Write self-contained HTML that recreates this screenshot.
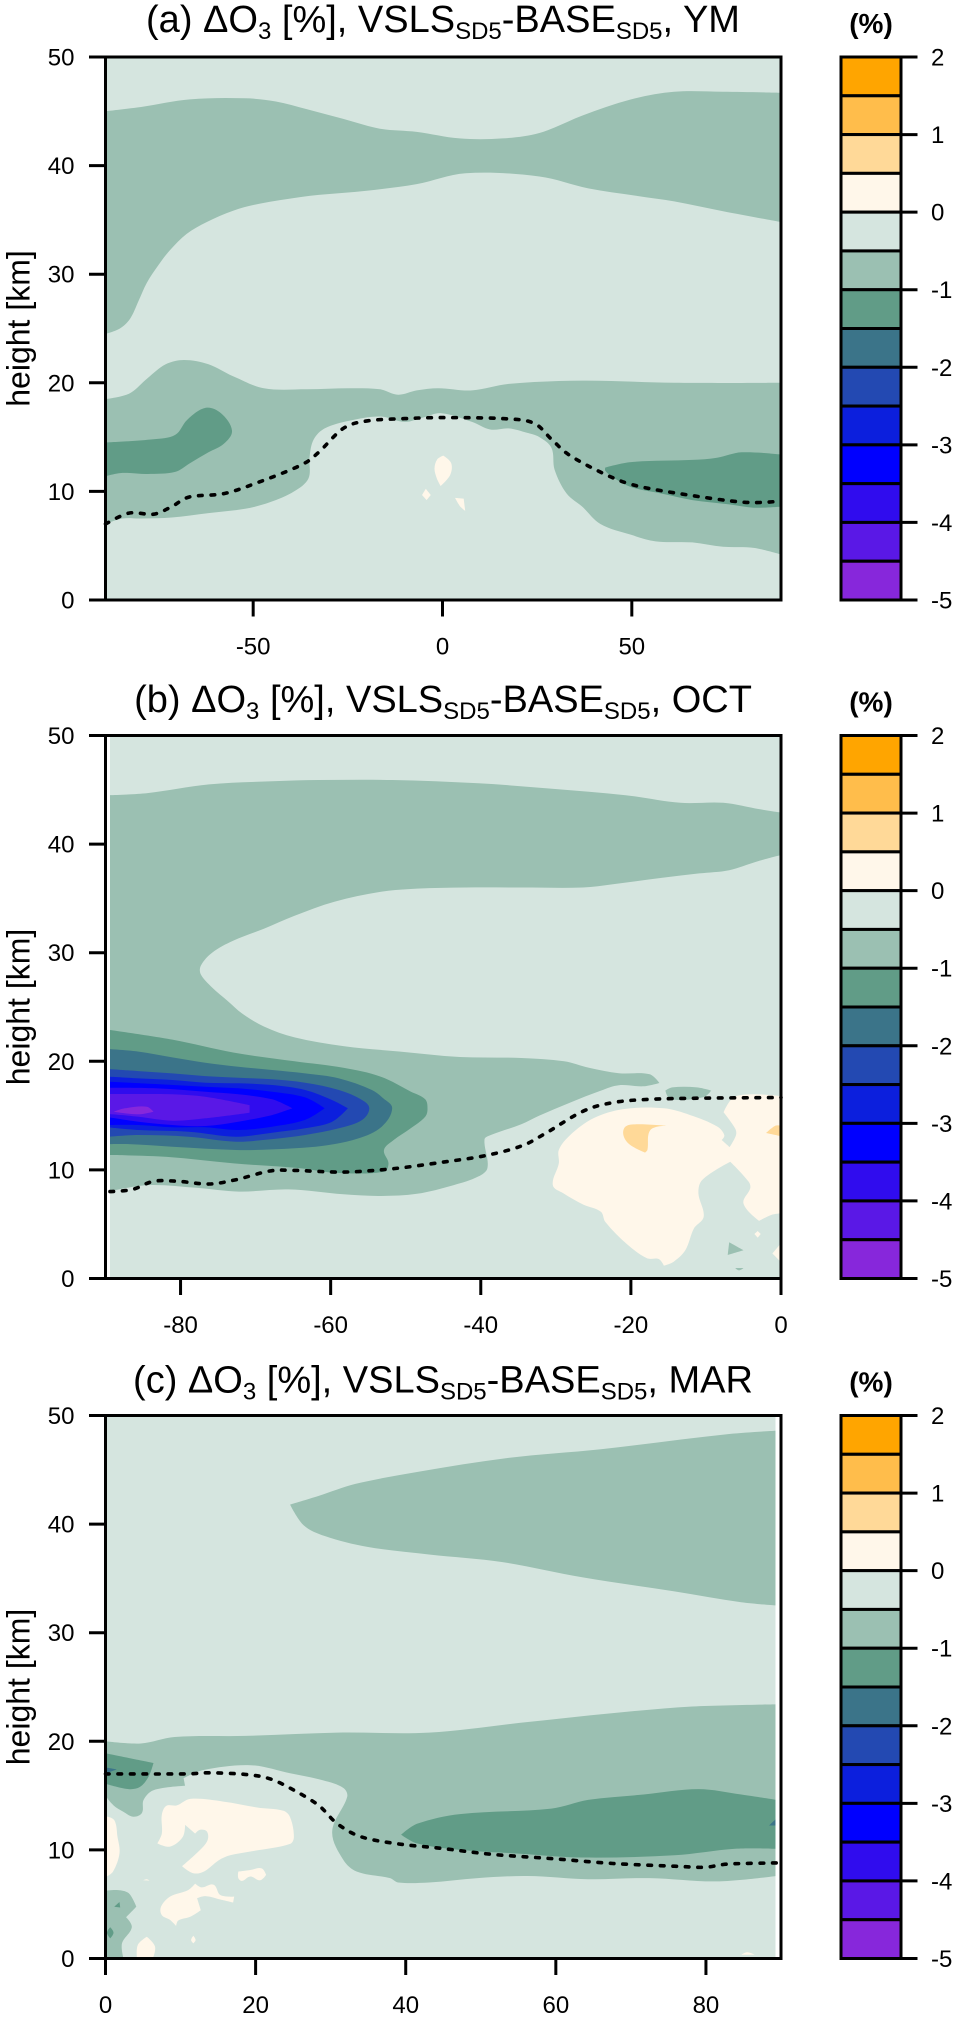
<!DOCTYPE html>
<html lang="en">
<head>
<meta charset="utf-8">
<title>Ozone difference cross-sections</title>
<style>
  html, body { margin: 0; padding: 0; background: #fff; }
  svg { display: block; font-family: "Liberation Sans", sans-serif; }
  .tick-label { font-size: 24px; fill: #000; }
  .axis-title { font-size: 32px; fill: #000; }
  .chart-title { font-size: 38px; fill: #000; }
  .chart-title .sub { font-size: 24px; }
  .unit-title { font-size: 28px; font-weight: bold; fill: #000; }
</style>
</head>
<body>
<svg id="figure" xmlns="http://www.w3.org/2000/svg" width="961" height="2019" viewBox="0 0 961 2019">
  <rect x="0" y="0" width="961" height="2019" fill="#ffffff"/>
  <defs>
    <clipPath id="clip-a"><rect x="105.5" y="57" width="675.5" height="543"/></clipPath>
    <clipPath id="clip-b"><rect x="110" y="735.5" width="671" height="543"/></clipPath>
    <clipPath id="clip-c"><rect x="105.5" y="1415.5" width="670" height="543"/></clipPath>
  </defs>
  <g id="panel-a"></g>
  <g id="panel-b"></g>
  <g id="panel-c"></g>
  <text class="chart-title" x="443" y="32" text-anchor="middle">(a) ΔO<tspan class="sub" dy="7">3</tspan><tspan dy="-7"> [%], VSLS</tspan><tspan class="sub" dy="7">SD5</tspan><tspan dy="-7">-BASE</tspan><tspan class="sub" dy="7">SD5</tspan><tspan dy="-7">, YM</tspan></text>
  <text class="chart-title" x="443" y="712" text-anchor="middle">(b) ΔO<tspan class="sub" dy="7">3</tspan><tspan dy="-7"> [%], VSLS</tspan><tspan class="sub" dy="7">SD5</tspan><tspan dy="-7">-BASE</tspan><tspan class="sub" dy="7">SD5</tspan><tspan dy="-7">, OCT</tspan></text>
  <text class="chart-title" x="443" y="1392.5" text-anchor="middle">(c) ΔO<tspan class="sub" dy="7">3</tspan><tspan dy="-7"> [%], VSLS</tspan><tspan class="sub" dy="7">SD5</tspan><tspan dy="-7">-BASE</tspan><tspan class="sub" dy="7">SD5</tspan><tspan dy="-7">, MAR</tspan></text>
</svg>
<script>
// ---- shared data ----
const levelValues = [2, 1.5, 1, 0.5, 0, -0.5, -1, -1.5, -2, -2.5, -3, -3.5, -4, -4.5, -5];
const levelColors = ['#FFA500', '#FFBD4B', '#FFD998', '#FFF7EA', '#D5E5DF', '#9BC0B2', '#619C87', '#3B7489', '#2349B2', '#0C1FDD', '#0000FF', '#300CEE', '#5A18E6', '#8727DB'];
const colorbarTicks = [2, 1, 0, -1, -2, -3, -4, -5];
const heightTicks = [0, 10, 20, 30, 40, 50];
const latTicksA = [-50, 0, 50];
const latTicksB = [-80, -60, -40, -20, 0];
const latTicksC = [0, 20, 40, 60, 80];

// ---- panel (a) contours: [latitude, km] ----
const aUpperBand = [[-89,45],[-79.6,45.4],[-66.7,46.1],[-52.1,46.2],[-44,45.9],[-35.9,45.2],[-26.2,44.3],[-16.5,43.4],[-6.8,43.1],[4.5,42.5],[15.9,42.5],[25.6,43],[36.9,44.6],[49.8,46.1],[61.2,46.8],[74.1,46.8],[89.4,46.7],[89.4,34.8],[74.1,35.8],[61.2,36.7],[51.5,37.2],[38.5,37.9],[25.6,39],[6.1,39.3],[-6.8,38.3],[-19.7,37.7],[-32.7,37.3],[-37.6,37.1],[-48.2,36.5],[-55.3,35.85],[-62.3,34.8],[-67.6,33.7],[-72,32.2],[-75,30.85],[-78.1,29.2],[-80.3,27.5],[-82.5,25.9],[-85.2,25],[-89,24.5]];
const aLowerBand = [[-89,18.5],[-82.8,19],[-78,20.4],[-73.1,21.7],[-68.3,22.1],[-61.8,21.7],[-55.3,20.6],[-47.2,19.5],[-35.9,19.4],[-24.6,19.5],[-16.5,19.4],[-11.7,18.9],[-6.8,19.3],[-1.1,19.5],[7.8,19.3],[17.5,19.9],[36.9,20.2],[61.2,20],[89.4,20],[89.4,4.2],[82.2,4.8],[74.1,4.9],[66,5.3],[56.3,5.4],[49.8,6],[41.7,7],[36.9,8.6],[32.8,9.8],[29.6,12],[28.8,14],[25.6,15],[22.3,15.4],[17.5,15.8],[12.6,15.7],[7.8,16.4],[-0.3,17.2],[-5.2,16.8],[-10,16.4],[-16.5,16.9],[-24.6,16.5],[-31.1,15.8],[-34,14.8],[-35.1,13.2],[-35.4,11.2],[-39.2,10],[-45.6,9],[-52.1,8.4],[-61.8,8],[-71.5,7.6],[-79.6,7.5],[-84.5,7.5],[-89,7]];
const aDarkLeft = [[-89,14.5],[-76.3,14.8],[-70.6,15.2],[-67.4,16.6],[-62.5,17.7],[-58.5,17.2],[-55.6,15.6],[-57.7,14.4],[-61.8,13.6],[-66.7,12.6],[-70.6,11.8],[-77.9,11.6],[-84.5,11.7],[-89,11.4]];
const aDarkRight = [[43,12.2],[49.8,12.7],[66,12.9],[72.5,13.1],[79,13.6],[89.4,13.4],[89.4,8.6],[82.2,8.5],[75.7,8.8],[66,9.2],[57.9,9.8],[49.8,10.4],[45,11.3],[43,11.9]];
const aWarmBig = [[0.2,13.3],[2.3,12.6],[2,11.5],[-0.5,10.5],[-1.5,11.2],[-2.1,12.1],[-1.4,12.95]];
const aWarmSmall = [[-4.4,10.25],[-3.1,9.67],[-4.2,9.2],[-5.4,9.67]];
const aWarmThird = [[3.3,9.4],[5.6,9.33],[6,8.2],[4.6,8.65]];
const aTropopause = [[-89,7],[-82.8,8],[-76.3,7.9],[-71.5,8.6],[-66.7,9.5],[-57.7,9.8],[-48.9,10.8],[-37.5,12.4],[-32.7,13.6],[-26.2,15.8],[-19.7,16.5],[-10,16.7],[-0.3,16.8],[15.9,16.7],[24,16.3],[28.8,14.8],[33.7,13.3],[43.4,11.5],[51.5,10.5],[64.4,9.7],[79.8,9],[89.4,9.1]];

// ---- panel (b) contours ----
const bBand = [[-89.6,44.5],[-84.4,44.7],[-76.2,45.5],[-67.3,45.8],[-61.6,45.9],[-51.8,45.9],[-40.3,45.6],[-30.5,45.1],[-20.7,44.5],[-13.4,43.8],[-7.7,43.8],[-2.8,43.2],[0,42.9],[0,39],[-3.2,38.4],[-6.9,37.6],[-10.9,37.3],[-15.8,36.9],[-22.4,36.3],[-26.4,36],[-34.6,36],[-42,36],[-48.5,35.9],[-53.4,35.6],[-59.5,34.7],[-64.8,33.4],[-68.9,32.2],[-73,31.1],[-75.8,30],[-77.3,28.8],[-77.3,28],[-75.8,26.8],[-73.8,25.6],[-71.8,24.4],[-68.9,23.2],[-64.8,22.2],[-58.3,21.4],[-50.9,20.9],[-42.8,20.4],[-34.6,20.3],[-28.9,20],[-25.6,19.4],[-21.6,18.9],[-17.5,18.8],[-16.2,18],[-18.3,17.7],[-21.6,17.8],[-24,17.3],[-28.1,16.2],[-32.2,15],[-34.6,14.2],[-38.7,13.2],[-39.5,12.8],[-39.1,10.2],[-40.3,9.4],[-43.6,8.6],[-48.5,7.8],[-53.4,7.6],[-58.3,7.75],[-65.6,8.2],[-72.2,8],[-77.9,8.35],[-84.4,8.6],[-89.6,8]];
const bBandSmall = [[-15.4,17.3],[-14.5,17.6],[-11.2,17.6],[-9.3,17.3],[-10.3,16.7],[-14.7,16.5]];
const bBandSpot = [[-6.9,3.33],[-5,2.6],[-7.1,2.16]];
const bBandSliver = [[-6.1,0.97],[-5,0.97],[-5.6,0.75]];
const bLevel1 = [[-89.6,22.9],[-81.1,22],[-72.9,20.8],[-64.8,20],[-58.3,19.4],[-53.4,18.6],[-49.3,17.2],[-47.4,16.5],[-47.1,15.6],[-47.4,14.9],[-49.4,13.8],[-51.6,12.75],[-52.9,11.83],[-52.3,10.6],[-52.9,9.83],[-59.6,9.74],[-64,10.15],[-72.9,10.6],[-81.8,11.2],[-89.6,11.37]];
const bLevel15 = [[-89.6,21.13],[-85.6,20.89],[-81.1,20.36],[-76.7,19.87],[-72.3,19.5],[-67.8,19.2],[-63.4,18.89],[-58.9,18.43],[-54.5,17.36],[-53,16.59],[-51.8,15.67],[-53.2,13.98],[-56.3,12.9],[-61.2,12.2],[-67.8,11.89],[-72.6,11.83],[-81.1,12.14],[-86.9,12.38],[-89.6,12.38]];
const bLevel2 = [[-89.6,19.29],[-85.6,19.1],[-81.1,18.89],[-76.7,18.64],[-72.3,18.49],[-67.8,18.34],[-63.4,18.03],[-58.9,17.36],[-55.8,16.43],[-54.85,15.67],[-55.8,14.6],[-58.9,13.83],[-63.4,13.21],[-67.8,12.84],[-72.6,12.6],[-78.9,13.06],[-85.6,13.21],[-89.6,13.06]];
const bLevel25 = [[-89.6,18.58],[-85.6,18.43],[-81.1,18.28],[-76.7,18.03],[-72.3,17.97],[-67.8,17.82],[-63.4,17.36],[-59.8,16.43],[-57.7,15.67],[-59.8,14.44],[-63.4,13.83],[-67.8,13.43],[-72.6,13.06],[-78.9,13.52],[-85.6,13.67],[-89.6,13.92]];
const bLevel3 = [[-89.6,18.12],[-83.4,17.91],[-76.7,17.66],[-72.3,17.51],[-67.8,17.2],[-63.4,16.68],[-60.8,15.67],[-63.4,14.6],[-67.8,13.98],[-72.3,13.67],[-76.7,13.92],[-81.1,13.92],[-85.6,14.13],[-89.6,14.13]];
const bLevel35 = [[-89.6,17.57],[-83.4,17.51],[-76.7,17.2],[-72.3,16.96],[-67.8,16.5],[-65.1,15.67],[-67.8,15.05],[-72.3,14.44],[-76.7,14.04],[-81.1,14.13],[-85.6,14.44],[-89.6,14.84]];
const bLevel4 = [[-89.6,16.99],[-85.6,16.99],[-81.1,16.96],[-76.7,16.74],[-70.8,15.97],[-70.8,15.27],[-76.7,14.75],[-81.1,14.53],[-85.6,14.9],[-89.6,15.15]];
const bLevel45 = [[-88.9,15.36],[-87.4,15.67],[-84.5,15.82],[-83.6,15.36],[-85.6,15.12]];
const bWarm = [[-29.6,11.83],[-28.1,13.2],[-25,14.75],[-21,15.6],[-15.6,15.67],[-12.1,15.05],[-8.5,14],[-7.55,13.2],[-7.9,12.75],[-6.85,12.1],[-6,13.2],[-6.1,13.8],[-7.65,15.3],[-6,16.8],[0,16.8],[0,6],[-1.3,5.85],[-2.9,5.3],[-5,6.9],[-4.1,8.3],[-4.3,8.9],[-6.75,10.75],[-10.5,9.07],[-11,7.85],[-10.3,5.7],[-11.6,4.6],[-12.75,2.6],[-14.3,1.55],[-15.6,1.18],[-16.3,1.8],[-17.85,1.86],[-20.5,3.15],[-23.4,5.2],[-24,6.15],[-26.3,6.8],[-29,7.85],[-30.4,8.6],[-29.6,10.6]];
const bWarmTiny = [[-3.1,4.37],[-2.7,4.1],[-3.1,3.76],[-3.55,4.1]];
const bWarmEdge = [[0,3.24],[-1.15,2.3],[0,1.5]];
const bOrange = [[-20.7,14],[-19.2,14.2],[-15.3,14.07],[-17.4,13.67],[-17.8,11.83],[-18.1,11.6],[-20.1,12.3],[-21,13.2]];
const bOrangeEdge = [[-2,13.4],[-0.76,14.07],[0,14.07],[0,13.1]];
const bTropopause = [[-89.4,8],[-86.4,8.2],[-83.6,8.95],[-80.3,8.95],[-76.2,8.7],[-72.6,9.1],[-68.1,9.9],[-64.8,9.95],[-58.3,9.8],[-51.8,10.1],[-45.2,10.7],[-39.5,11.3],[-34.6,12.2],[-31.3,13.4],[-26.4,15.4],[-22.4,16.2],[-17.5,16.5],[-10.9,16.6],[0,16.67]];

// ---- panel (c) contours ----
const cUpperBand = [[24.6,41.8],[28.4,42.6],[33.3,43.7],[41.5,44.8],[53.7,46.1],[66,46.9],[83.1,48.3],[89.4,48.6],[89.4,32.5],[84.7,32.8],[75.8,33.8],[63.5,35.1],[52.9,36.5],[43.1,37.2],[34.9,37.9],[29.2,38.9],[26.4,39.9]];
const cLowerBand = [[0,20],[4.7,19.8],[9.2,20.4],[18.6,20.5],[30.9,20.8],[43.1,20.8],[55.3,21.7],[67.6,22.6],[78.2,23.2],[89.4,23.4],[89.4,7.6],[81.5,7.1],[72.5,7.4],[64.3,7.3],[56.2,7.6],[49.6,7.4],[43.1,7],[39,7],[37.9,7.4],[33.5,8],[31.7,9.07],[30.2,11.7],[32.2,14.9],[31.7,15.7],[29,16.4],[24.6,17.05],[19.3,17.8],[13.06,17.36],[10.4,16.6],[10.6,15.9],[6.4,15.5],[5.07,14.6],[4.85,13.4],[3.73,13.06],[2.4,13.5],[1.07,14.1],[0,15.2]];
const cBandLowLeft = [[0,6.25],[1.7,6.3],[3.1,6],[4.1,4.77],[2.75,3.8],[3.5,2.87],[2.2,1.4],[2.4,0],[0,0]];
const cDarkTop = [[0,18.9],[6.4,18],[5.74,16.75],[4.6,15.8],[3.07,15.6],[0,16.1]];
const cDarkMain = [[39.4,11.4],[41.5,12.4],[47.2,13.3],[59.4,13.8],[64.3,14.6],[71.7,15.1],[79,15.6],[84.7,15.1],[89.4,14.6],[89.4,10.1],[83.9,10.1],[75.8,9.5],[63.5,9.3],[55.3,9.65],[47.2,10],[41.5,10.6]];
const cDarkSpotA = [[1.16,4.77],[1.87,5.2],[1.96,4.7]];
const cDarkSpotB = [[0.2,2.38],[0.63,2.87],[1.07,2.38],[0.63,1.86]];
const cTealTop = [[0,17.6],[1.5,17.4],[0.2,17.1]];
const cTealRight = [[88.4,12.25],[89.4,12.9],[89.4,12.25]];
const cWarmEdge = [[0,13.1],[1.16,12.75],[1.6,11.2],[1.87,9.7],[1,8],[0,7.5]];
const cWarmMain = [[8.1,14.05],[9.5,14.1],[11.3,14.7],[15.7,14.45],[20.2,13.9],[23.7,13.6],[24.6,13],[25.1,11.2],[24.6,10.55],[19.3,9.85],[16.6,9.5],[15.1,9.05],[13.1,8],[11.7,7.85],[10.2,8.5],[12.6,10],[13.6,10.9],[13.5,11.7],[12.6,11.85],[11.95,11.5],[10.6,12.3],[10.3,11.2],[8.6,10.3],[6.9,10.6],[7.5,11.5],[7.5,13.2]];
const cWarmSmall = [[17.7,8],[19.3,8.15],[20.8,8.3],[21.4,7.7],[20.6,7.2],[19.3,7.55],[18.2,7.15],[17.7,7.4]];
const cWarmLower = [[7.4,4.77],[8.6,5.7],[11,6.3],[11.95,6.9],[12.8,6.55],[14.4,6.8],[15.3,5.85],[17.15,5.7],[17,5.15],[15.5,5.4],[13.3,5.75],[12.2,5.55],[12.7,4.45],[11.3,3.85],[9.7,3.5],[9.4,3],[8.6,3.55],[7.5,4]];
const cWarmBottom = [[4.2,0],[4.3,1.24],[5.5,2],[6.6,1.1],[6.3,0]];
const cWarmTinyA = [[11.4,1.7],[11.7,2.1],[12,1.7],[11.7,1.4]];
const cWarmTinyB = [[5,7.2],[5.5,7.3],[5.9,7.17]];
const cWarmTinyC = [[84.7,0.35],[85.5,0.58],[86.5,0.35]];
const cTropopause = [[0,17],[10.4,17],[13.7,17.1],[18.6,16.95],[21.9,16.55],[25.1,15.5],[28.4,14.1],[30.9,12.4],[34.1,11.2],[39,10.55],[44.7,10.15],[51.3,9.6],[59.4,9.2],[67.6,8.75],[75.8,8.5],[79.8,8.4],[83.1,8.7],[89.4,8.8]];

// ---- drawing ----
const SVG_NS = 'http://www.w3.org/2000/svg';
const plotLeft = 105.5, plotRight = 781, heightPx = 543;
const colorbarLeft = 841, colorbarRight = 901;

function make(tag, attrs, parent) {
  const el = document.createElementNS(SVG_NS, tag);
  for (const k in attrs) el.setAttribute(k, attrs[k]);
  parent.appendChild(el);
  return el;
}

function smoothPath(px) {
  const n = px.length;
  const unit = (a, b) => {
    const dx = b[0] - a[0], dy = b[1] - a[1], l = Math.hypot(dx, dy) || 1;
    return [dx / l, dy / l];
  };
  const tangents = px.map((p, i) => {
    const a = px[(i - 1 + n) % n], b = px[(i + 1) % n];
    const u = unit(a, p), v = unit(p, b);
    if (u[0] * v[0] + u[1] * v[1] < 0.3) return [0, 0];
    return unit(a, b);
  });
  let d = 'M' + px[0][0].toFixed(1) + ' ' + px[0][1].toFixed(1);
  for (let i = 0; i < n; i++) {
    const p = px[i], q = px[(i + 1) % n];
    const l = Math.hypot(q[0] - p[0], q[1] - p[1]) / 3;
    const t0 = tangents[i], t1 = tangents[(i + 1) % n];
    d += 'C' + (p[0] + t0[0] * l).toFixed(1) + ' ' + (p[1] + t0[1] * l).toFixed(1) + ' ' +
      (q[0] - t1[0] * l).toFixed(1) + ' ' + (q[1] - t1[1] * l).toFixed(1) + ' ' +
      q[0].toFixed(1) + ' ' + q[1].toFixed(1);
  }
  return d + 'Z';
}

function smoothLine(px) {
  let d = 'M' + px[0][0].toFixed(1) + ' ' + px[0][1].toFixed(1);
  for (let i = 0; i < px.length - 1; i++) {
    const p0 = px[Math.max(i - 1, 0)], p1 = px[i], p2 = px[i + 1], p3 = px[Math.min(i + 2, px.length - 1)];
    d += 'C' + (p1[0] + (p2[0] - p0[0]) / 6).toFixed(1) + ' ' + (p1[1] + (p2[1] - p0[1]) / 6).toFixed(1) + ' ' +
      (p2[0] - (p3[0] - p1[0]) / 6).toFixed(1) + ' ' + (p2[1] - (p3[1] - p1[1]) / 6).toFixed(1) + ' ' +
      p2[0].toFixed(1) + ' ' + p2[1].toFixed(1);
  }
  return d;
}

function drawPanel(cfg) {
  const root = document.getElementById(cfg.id);
  const x = lat => plotLeft + (lat - cfg.latMin) / (cfg.latMax - cfg.latMin) * (plotRight - plotLeft);
  const y = km => cfg.bottom - km / 50 * heightPx;
  const top = cfg.bottom - heightPx;
  const toPx = pts => pts.map(p => [x(p[0]), y(p[1])]);

  const fills = make('g', { 'clip-path': 'url(#' + cfg.clip + ')' }, root);
  
  
  const base = make('rect', { x: plotLeft, y: top, width: plotRight - plotLeft, height: heightPx, fill: levelColors[4] }, fills);
  
  
  cfg.layers.forEach(layer => {
    const shape = make('path', { d: smoothPath(toPx(layer[1])), fill: levelColors[layer[0]] }, fills);
    
    
  });

  const trop = make('path', { d: smoothLine(toPx(cfg.tropopause)), fill: 'none', stroke: '#000', 'stroke-width': 3.6, 'stroke-linecap': 'round', 'stroke-dasharray': '3.6 8.9' }, root);
  
  

  const frame = make('rect', { x: plotLeft, y: top, width: plotRight - plotLeft, height: heightPx, fill: 'none', stroke: '#000', 'stroke-width': 3 }, root);
  
  

  heightTicks.forEach(v => {
    const tick = make('line', { x1: plotLeft - 16.5, x2: plotLeft, y1: y(v), y2: y(v), stroke: '#000', 'stroke-width': 3 }, root);
    
    
    const label = make('text', { class: 'tick-label', x: 74.5, y: y(v) + 8.5, 'text-anchor': 'end' }, root);
    label.textContent = String(v);
    
    
  });

  cfg.latTicks.forEach(v => {
    const tick = make('line', { x1: x(v), x2: x(v), y1: cfg.bottom, y2: cfg.bottom + 16.5, stroke: '#000', 'stroke-width': 3 }, root);
    
    
    const label = make('text', { class: 'tick-label', x: x(v), y: cfg.bottom + 54.5, 'text-anchor': 'middle' }, root);
    label.textContent = String(v);
    
    
  });

  const midY = cfg.bottom - heightPx / 2;
  const yTitle = make('text', { class: 'axis-title', x: 0, y: 0, 'text-anchor': 'middle', transform: 'translate(29.5 ' + midY + ') rotate(-90)' }, root);
  yTitle.textContent = 'height [km]';
  
  

  // colour bar
  const cbY = v => cfg.bottom - (v + 5) / 7 * heightPx;
  levelColors.forEach((color, i) => {
    const box = make('rect', { x: colorbarLeft, y: cbY(levelValues[i]), width: colorbarRight - colorbarLeft, height: cbY(levelValues[i + 1]) - cbY(levelValues[i]), fill: color, stroke: '#000', 'stroke-width': 3 }, root);
    
    
  });
  colorbarTicks.forEach(v => {
    const tick = make('line', { x1: colorbarRight, x2: colorbarRight + 16.5, y1: cbY(v), y2: cbY(v), stroke: '#000', 'stroke-width': 3 }, root);
    
    
    const label = make('text', { class: 'tick-label', x: 931, y: cbY(v) + 8.5 }, root);
    label.textContent = String(v);
    
    
  });
  const unit = make('text', { class: 'unit-title', x: 871, y: top - 24, 'text-anchor': 'middle' }, root);
  unit.textContent = '(%)';
  
  
}

drawPanel({
  id: 'panel-a', clip: 'clip-a', bottom: 600, latMin: -89, latMax: 89.4, latTicks: latTicksA, tropopause: aTropopause,
  layers: [[5, aUpperBand], [5, aLowerBand], [6, aDarkLeft], [6, aDarkRight], [3, aWarmBig], [3, aWarmSmall], [3, aWarmThird]]
});
drawPanel({
  id: 'panel-b', clip: 'clip-b', bottom: 1278.5, latMin: -90, latMax: 0, latTicks: latTicksB, tropopause: bTropopause,
  layers: [[5, bBand], [5, bBandSmall], [5, bBandSpot], [5, bBandSliver], [6, bLevel1], [7, bLevel15], [8, bLevel2], [9, bLevel25], [10, bLevel3], [11, bLevel35], [12, bLevel4], [13, bLevel45], [3, bWarm], [3, bWarmTiny], [3, bWarmEdge], [2, bOrange], [2, bOrangeEdge]]
});
drawPanel({
  id: 'panel-c', clip: 'clip-c', bottom: 1958.5, latMin: 0, latMax: 90, latTicks: latTicksC, tropopause: cTropopause,
  layers: [[5, cUpperBand], [5, cLowerBand], [5, cBandLowLeft], [6, cDarkTop], [6, cDarkMain], [6, cDarkSpotA], [6, cDarkSpotB], [7, cTealTop], [7, cTealRight], [3, cWarmEdge], [3, cWarmMain], [3, cWarmSmall], [3, cWarmLower], [3, cWarmBottom], [3, cWarmTinyA], [3, cWarmTinyB], [3, cWarmTinyC]]
});
</script>
</body>
</html>
